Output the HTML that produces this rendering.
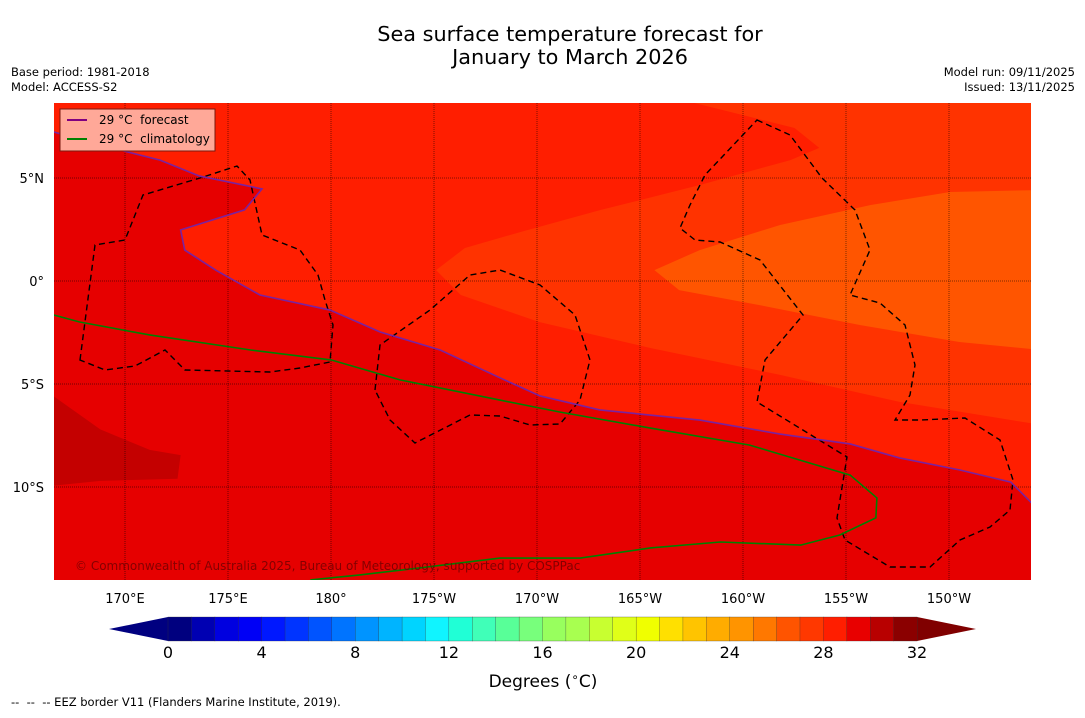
<!DOCTYPE html>
<html><head><meta charset="utf-8"><style>
body{margin:0;background:#fff;font-family:"Liberation Sans","DejaVu Sans",sans-serif;}
svg text{font-family:"DejaVu Sans","Liberation Sans",sans-serif;white-space:pre;}
</style></head><body>
<svg id="chart" width="1085" height="713" xmlns="http://www.w3.org/2000/svg">
<text x="570" y="41" font-size="20.8" text-anchor="middle">Sea surface temperature forecast for</text>
<text x="570" y="64" font-size="20.8" text-anchor="middle">January to March 2026</text>
<text x="11" y="76" font-size="11.5">Base period: 1981-2018</text>
<text x="11" y="91" font-size="11.5">Model: ACCESS-S2</text>
<text x="1075" y="76" font-size="11.5" text-anchor="end">Model run: 09/11/2025</text>
<text x="1075" y="91" font-size="11.5" text-anchor="end">Issued: 13/11/2025</text>
<defs><clipPath id="mapclip"><rect x="54" y="103" width="977" height="477"/></clipPath></defs>
<g id="map" clip-path="url(#mapclip)">
<rect x="54" y="103" width="977" height="477" fill="#e60000"/>
</g>
<text x="75" y="570" font-size="12" fill="#7a0000" opacity="0.9">© Commonwealth of Australia 2025, Bureau of Meteorology, supported by COSPPac</text>
<g id="legend">
<rect x="60" y="109" width="155" height="42" fill="#ffa898" stroke="#7a1a10" stroke-width="1"/>
<line x1="67" y1="120" x2="87" y2="120" stroke="#800080" stroke-width="2"/>
<text x="99" y="124" font-size="12">29 °C  forecast</text>
<line x1="67" y1="139" x2="87" y2="139" stroke="#008000" stroke-width="2"/>
<text x="99" y="143" font-size="12">29 °C  climatology</text>
</g>
<g id="axes"></g>
<g id="cbar"></g>
<text x="543" y="687" font-size="17" text-anchor="middle">Degrees (<tspan font-size="12" dy="-6">∘</tspan><tspan dy="6">C)</tspan></text>
<text x="11" y="706" font-size="11.5">--  --  -- EEZ border V11 (Flanders Marine Institute, 2019).</text>
</svg>
<script>
const NS="http://www.w3.org/2000/svg";
// data
const lonTicks=[170,175,180,185,190,195,200,205,210];
const lonLabels=["170°E","175°E","180°","175°W","170°W","165°W","160°W","155°W","150°W"];
const latTicks=[5,0,-5,-10];
const latLabels=["5°N","0°","5°S","10°S"];
const forecastLon=[166.55,168.8,171.7,173.6,176.65,175.8,172.7,172.9,174.4,176.55,179.95,182.4,185.3,188.2,190.15,193.05,197.9,201.8,205.2,207.6,210.5,213,214.2];
const forecastLat=[7.23,6.6,5.87,5.1,4.47,3.45,2.48,1.5,0.53,-0.68,-1.41,-2.48,-3.35,-4.7,-5.58,-6.26,-6.75,-7.43,-7.91,-8.59,-9.17,-9.76,-10.97];
const climLon=[166.55,167.8,171.2,176.1,180,183.35,188.2,191.1,195.5,200.3,205.2,206.5,206.45,204.7,202.8,198.9,195.5,192.1,188.2,184.3,181.4,179];
const climLat=[-1.65,-1.99,-2.62,-3.35,-3.83,-4.8,-5.78,-6.36,-7.14,-7.96,-9.42,-10.53,-11.5,-12.33,-12.82,-12.67,-12.96,-13.45,-13.45,-13.93,-14.27,-14.51];
const band27Lon=[197.4,202.5,203.7,202.3,197.9,193.1,189.2,186.5,185.1,186.3,190.1,195.5,201.8,207.6,214.5,214.5];
const band27Lat=[8.7,7.43,6.46,5.87,4.66,3.45,2.38,1.6,0.53,-0.68,-1.99,-3.25,-4.56,-5.87,-6.99,8.7];
const band26Lon=[214.5,210.05,206.2,201.8,197.9,195.7,196.9,200.8,205.7,210.5,214.5];
const band26Lat=[4.42,4.32,3.69,2.72,1.5,0.53,-0.44,-1.17,-2.14,-2.96,-3.35];
const band30Lon=[166.4,168.8,171.2,172.7,172.55,168.8,166.4];
const band30Lat=[-5.5,-7.2,-8.2,-8.45,-9.6,-9.7,-9.95];
const cbarTicks=[0,4,8,12,16,20,24,28,32];
const cbarColors=["#00007f","#0000b2","#0000e0","#0000f6","#0018ff","#0034ff","#0054ff","#0074ff","#0094ff","#00b4ff","#00d4ff","#10f4ff","#20ffd6","#40ffb8","#58ff98","#78ff7c","#98ff5e","#a8ff50","#c8ff30","#e0ff18","#f0ff00","#ffe000","#ffc400","#ffac00","#ff9400","#ff7800","#ff5400","#ff3800","#ff1e00","#e80000","#b80000","#8b0000"];
// axis functions
const xS=lon=>125+(lon-170)*20.6;
const yS=lat=>281-lat*20.6;
const cX=v=>168+v*(917-168)/32;
function pts(lons,lats){return lons.map((l,i)=>xS(l)+","+yS(lats[i])).join(" ");}
const map=document.getElementById("map");
function poly(lons,lats,fill,name){const p=document.createElementNS(NS,"polygon");p.setAttribute("points",pts(lons,lats));p.setAttribute("fill",fill);


map.appendChild(p);}
poly(forecastLon.concat([214.5,166.4]),forecastLat.concat([8.7,8.7]),"#ff1e00","band-28-29");
poly(band27Lon,band27Lat,"#ff3300","band-27-28");
poly(band26Lon,band26Lat,"#ff5500","band-26-27");
poly(band30Lon,band30Lat,"#c40000","band-30-31");
// EEZ borders (basemap)
const eez=["M80,360 L95,245 L125,240 L143,195 L200,178 L237,166 L250,180 L262,235 L300,250 L318,275 L325,300 L333,325 L330,362 L300,368 L270,372 L185,370 L165,350 L135,366 L105,370 Z",
"M375,390 L380,345 L430,310 L470,275 L500,270 L540,285 L575,315 L590,360 L580,400 L560,424 L530,425 L500,416 L470,415 L415,443 L390,420 Z",
"M757,120 L790,135 L822,178 L855,210 L870,250 L850,295 L880,303 L905,325 L915,365 L910,395 L895,420 L920,420 L965,418 L1000,440 L1013,480 L1010,510 L990,527 L960,540 L930,567 L890,567 L845,540 L837,518 L847,457 L757,402 L765,360 L803,315 L760,260 L720,242 L695,240 L680,228 L690,205 L705,175 Z"];
eez.forEach((d,i)=>{const p=document.createElementNS(NS,"path");p.setAttribute("d",d);p.setAttribute("fill","none");p.setAttribute("stroke","#000");p.setAttribute("stroke-width","1.4");p.setAttribute("stroke-dasharray","6,4");


map.appendChild(p);});
lonTicks.forEach(l=>{const g=document.createElementNS(NS,"line");g.setAttribute("x1",xS(l));g.setAttribute("x2",xS(l));g.setAttribute("y1",103);g.setAttribute("y2",580);g.setAttribute("stroke","#000");g.setAttribute("stroke-width","0.5");g.setAttribute("stroke-dasharray","1,1");


map.appendChild(g);});
latTicks.forEach(l=>{const g=document.createElementNS(NS,"line");g.setAttribute("y1",yS(l));g.setAttribute("y2",yS(l));g.setAttribute("x1",54);g.setAttribute("x2",1031);g.setAttribute("stroke","#000");g.setAttribute("stroke-width","0.5");g.setAttribute("stroke-dasharray","1,1");


map.appendChild(g);});
function line(lons,lats,color,name){const p=document.createElementNS(NS,"polyline");p.setAttribute("points",pts(lons,lats));p.setAttribute("fill","none");p.setAttribute("stroke",color);p.setAttribute("stroke-width","1.6");


map.appendChild(p);}
line(climLon,climLat,"#008000","climatology-29c-line");
line(forecastLon,forecastLat,"#7a22a0","forecast-29c-line");
const ax=document.getElementById("axes");
lonTicks.forEach((l,i)=>{const t=document.createElementNS(NS,"text");t.setAttribute("x",xS(l));t.setAttribute("y",603);t.setAttribute("font-size","13");t.setAttribute("text-anchor","middle");t.textContent=lonLabels[i];


ax.appendChild(t);});
latTicks.forEach((l,i)=>{const t=document.createElementNS(NS,"text");t.setAttribute("x",44);t.setAttribute("y",yS(l)+5);t.setAttribute("font-size","13");t.setAttribute("text-anchor","end");t.textContent=latLabels[i];


ax.appendChild(t);});
const cb=document.getElementById("cbar");
const lt=document.createElementNS(NS,"polygon");lt.setAttribute("points",`${cX(0)},617 109,629 ${cX(0)},641`);lt.setAttribute("fill","#000080");


cb.appendChild(lt);
const rt=document.createElementNS(NS,"polygon");rt.setAttribute("points",`${cX(32)},617 976,629 ${cX(32)},641`);rt.setAttribute("fill","#800000");


cb.appendChild(rt);
cbarColors.forEach((c,i)=>{const r=document.createElementNS(NS,"rect");r.setAttribute("x",cX(i));r.setAttribute("y",617);r.setAttribute("width",cX(i+1)-cX(i)+0.3);r.setAttribute("height",24);r.setAttribute("fill",c);r.setAttribute("stroke","#333");r.setAttribute("stroke-width","0.3");


cb.appendChild(r);});
cbarTicks.forEach(v=>{const t=document.createElementNS(NS,"text");t.setAttribute("x",cX(v));t.setAttribute("y",658);t.setAttribute("font-size","16");t.setAttribute("text-anchor","middle");t.textContent=v;


cb.appendChild(t);});
</script>
</body></html>
